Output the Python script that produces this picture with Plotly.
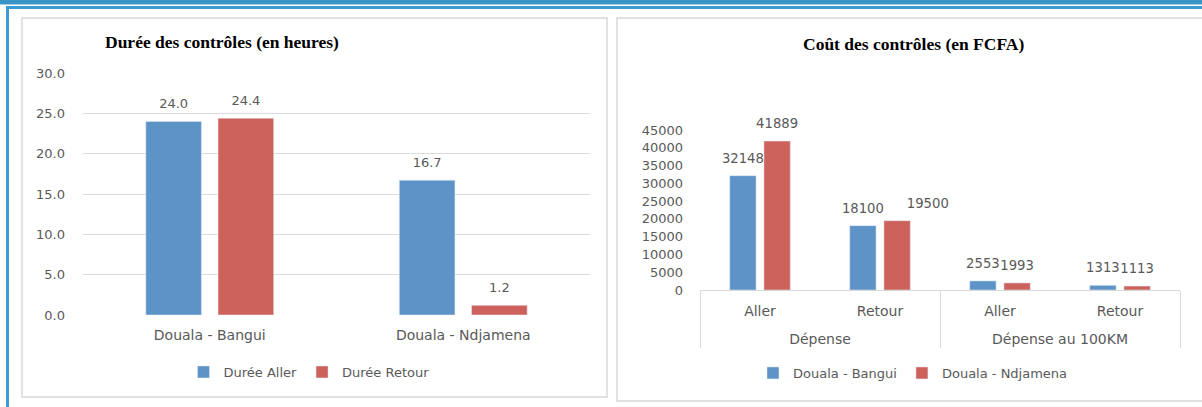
import plotly.graph_objects as go

W, H = 1202, 407

# ---- Left chart data: Durée des contrôles (en heures)
routes = ["Douala - Bangui", "Douala - Ndjamena"]
duree_aller = [24.0, 16.7]
duree_retour = [24.4, 1.2]
duree_ticks = [0, 5, 10, 15, 20, 25, 30]

# ---- Right chart data: Coût des contrôles (en FCFA)
cout_groupes = ["Dépense", "Dépense", "Dépense au 100KM", "Dépense au 100KM"]
cout_sens = ["Aller", "Retour", "Aller", "Retour"]
cout_bangui = [32148, 18100, 2553, 1313]
cout_ndjamena = [41889, 19500, 1993, 1113]
cout_ticks = [0, 5000, 10000, 15000, 20000, 25000, 30000, 35000, 40000, 45000]

# label placement (style only)
pos_bangui = ["top center", "top center", "top center", "top center"]
pos_ndjamena = ["top center", "top right", "top center", "top center"]

BLUE = "#5E93C8"
RED = "#CD615C"
GREY_TXT = "#595959"
GRID = "#DCDCDC"
SANS = "DejaVu Sans"
SERIF = "Liberation Serif"


def px(x):
    return x / W


def py(y):
    return 1 - y / H


fig = go.Figure()

# Left bars
fig.add_trace(go.Bar(x=routes, y=duree_aller, name="Durée Aller", marker_color=BLUE,
                     xaxis="x", yaxis="y", legend="legend", hoverinfo="skip"))
fig.add_trace(go.Bar(x=routes, y=duree_retour, name="Durée Retour", marker_color=RED,
                     xaxis="x", yaxis="y", legend="legend", hoverinfo="skip"))
# Left data labels
for vals in (duree_aller, duree_retour):
    fig.add_trace(go.Scatter(x=routes, y=vals, mode="markers+text",
                             text=[f"{v:.1f}" for v in vals], textposition="top center",
                             marker=dict(size=14, opacity=0),
                             textfont=dict(family=SANS, size=13, color=GREY_TXT),
                             xaxis="x", yaxis="y", showlegend=False, hoverinfo="skip",
                             cliponaxis=False))

# Right bars (two-level category axis; group label shown one line lower)
groupes_affiches = ["<br>" + g for g in cout_groupes]
xcat = [groupes_affiches, cout_sens]
fig.add_trace(go.Bar(x=xcat, y=cout_bangui, name="Douala - Bangui", marker_color=BLUE,
                     xaxis="x2", yaxis="y2", legend="legend2", hoverinfo="skip"))
fig.add_trace(go.Bar(x=xcat, y=cout_ndjamena, name="Douala - Ndjamena", marker_color=RED,
                     xaxis="x2", yaxis="y2", legend="legend2", hoverinfo="skip"))
for vals, pos in ((cout_bangui, pos_bangui), (cout_ndjamena, pos_ndjamena)):
    fig.add_trace(go.Scatter(x=xcat, y=vals, mode="markers+text",
                             text=[str(v) for v in vals], textposition=pos,
                             marker=dict(size=14, opacity=0),
                             textfont=dict(family=SANS, size=13.2, color=GREY_TXT),
                             xaxis="x2", yaxis="y2", showlegend=False, hoverinfo="skip",
                             cliponaxis=False))

shapes = [
    # top blue band and frame
    dict(type="rect", xref="paper", yref="paper", x0=0, x1=1, y0=py(4.5), y1=1,
         fillcolor="#3A95C5", line=dict(width=0)),
    dict(type="line", xref="paper", yref="paper", x0=px(6), x1=1, y0=py(7.5), y1=py(7.5),
         line=dict(color="#3C9BD1", width=3)),
    dict(type="line", xref="paper", yref="paper", x0=px(7.5), x1=px(7.5), y0=0, y1=py(6),
         line=dict(color="#3C9BD1", width=3)),
    # panels
    dict(type="rect", xref="paper", yref="paper", x0=px(22), x1=px(607), y0=py(397), y1=py(18),
         line=dict(color="#D9D9D9", width=1.5), fillcolor="rgba(0,0,0,0)"),
    dict(type="rect", xref="paper", yref="paper", x0=px(617), x1=px(1215), y0=py(401), y1=py(18),
         line=dict(color="#D9D9D9", width=1.5), fillcolor="rgba(0,0,0,0)"),
]

annotations = [
    dict(text="<b>Durée des contrôles (en heures)</b>", xref="paper", yref="paper",
         x=px(103), y=py(42), xanchor="left", yanchor="middle", showarrow=False,
         font=dict(family=SERIF, size=17.5, color="#000000")),
    dict(text="<b>Coût des contrôles (en FCFA)</b>", xref="paper", yref="paper",
         x=px(913), y=py(44), xanchor="center", yanchor="middle", showarrow=False,
         font=dict(family=SERIF, size=17.5, color="#000000")),
]

fig.update_layout(
    width=W, height=H,
    margin=dict(l=0, r=0, t=0, b=0, pad=0, autoexpand=False),
    paper_bgcolor="white", plot_bgcolor="rgba(0,0,0,0)",
    barmode="group", bargap=0.43, bargroupgap=0.23,
    scattermode="group",
    shapes=shapes, annotations=annotations,
    xaxis=dict(domain=[px(83), px(590)], anchor="y", showgrid=False, showline=False,
               zeroline=False, ticks="", ticklabelstandoff=10, automargin=False,
               tickfont=dict(family=SANS, size=14, color=GREY_TXT), fixedrange=True),
    yaxis=dict(domain=[py(315), py(73)], anchor="x", range=[0, 30], tickvals=duree_ticks,
               tickformat=".1f", showgrid=True, gridcolor=GRID, gridwidth=1, zeroline=False,
               showline=False, ticks="", ticklabelstandoff=17, automargin=False,
               tickfont=dict(family=SANS, size=13, color=GREY_TXT), fixedrange=True),
    xaxis2=dict(domain=[px(700), px(1180)], anchor="y2", type="multicategory", showgrid=False,
                showline=True, linecolor="#D9D9D9", linewidth=1, zeroline=False, ticks="",
                showdividers=True, dividercolor="#D9D9D9", dividerwidth=1,
                ticklabelstandoff=8, automargin=False,
                tickfont=dict(family=SANS, size=14, color=GREY_TXT), fixedrange=True),
    yaxis2=dict(domain=[py(290), py(130)], anchor="x2", range=[0, 45000], tickvals=cout_ticks,
                tickformat="d", showgrid=False, zeroline=False, showline=False, ticks="",
                ticklabelstandoff=16, automargin=False,
                tickfont=dict(family=SANS, size=13, color=GREY_TXT), fixedrange=True),
    legend=dict(orientation="h", x=px(309), xanchor="center", y=py(372), yanchor="middle",
                font=dict(family=SANS, size=13, color=GREY_TXT), bgcolor="rgba(0,0,0,0)",
                itemwidth=30),
    legend2=dict(orientation="h", x=px(913), xanchor="center", y=py(373), yanchor="middle",
                 font=dict(family=SANS, size=13, color=GREY_TXT), bgcolor="rgba(0,0,0,0)",
                 itemwidth=30),
)

fig.write_html("out.html", include_plotlyjs=True, full_html=True,
               config={"displayModeBar": False},
               post_script="document.body.style.margin='0';document.body.style.overflow='hidden';")
